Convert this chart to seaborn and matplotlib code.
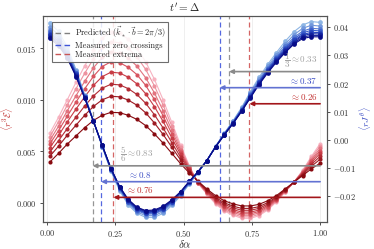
import matplotlib

matplotlib.use("Agg")
import matplotlib.pyplot as plt
import pandas as pd
import seaborn as sns
from matplotlib.lines import Line2D

sns.set_theme(style="ticks")
# Computer-Modern look, set after set_theme
plt.rcParams["font.family"] = ["serif"]
plt.rcParams["font.serif"] = ["cmr10", "DejaVu Serif"]
plt.rcParams["mathtext.fontset"] = "cm"
plt.rcParams["axes.formatter.use_mathtext"] = True

# --- data -----------------------------------------------------------------
x_vals = [0.010, 0.042, 0.074, 0.106, 0.138, 0.170, 0.202, 0.234, 0.266, 0.297,
          0.329, 0.361, 0.393, 0.425, 0.457, 0.489, 0.521, 0.553, 0.585, 0.617,
          0.649, 0.681, 0.713, 0.745, 0.776, 0.808, 0.840, 0.872, 0.904, 0.936,
          0.968, 1.000]

# <r^3 E>, darkest (smallest swing) first
red_0 = [0.00395, 0.00480, 0.00570, 0.00650, 0.00730, 0.00800, 0.00850, 0.00878, 0.00875, 0.00850,
         0.00810, 0.00750, 0.00670, 0.00580, 0.00480, 0.00380, 0.00290, 0.00210, 0.00135, 0.00070,
         0.00020, -0.00010, -0.00030, -0.00030, -0.00015, 0.00020, 0.00070, 0.00135, 0.00200, 0.00265,
         0.00330, 0.00385]
red_1 = [0.00451, 0.00550, 0.00656, 0.00754, 0.00850, 0.00936, 0.01000, 0.01034, 0.01029, 0.00998,
         0.00948, 0.00874, 0.00776, 0.00664, 0.00540, 0.00416, 0.00304, 0.00206, 0.00125, 0.00054,
         0.00000, -0.00032, -0.00054, -0.00054, -0.00037, 0.00002, 0.00058, 0.00129, 0.00200, 0.00275,
         0.00354, 0.00423]
red_2 = [0.00493, 0.00603, 0.00721, 0.00832, 0.00940, 0.01038, 0.01113, 0.01151, 0.01145, 0.01109,
         0.01052, 0.00967, 0.00856, 0.00727, 0.00585, 0.00443, 0.00315, 0.00203, 0.00118, 0.00042,
         -0.00015, -0.00049, -0.00072, -0.00072, -0.00054, -0.00012, 0.00049, 0.00125, 0.00200, 0.00283,
         0.00372, 0.00452]
red_3 = [0.00535, 0.00655, 0.00785, 0.00910, 0.01030, 0.01140, 0.01225, 0.01268, 0.01260, 0.01220,
         0.01155, 0.01060, 0.00935, 0.00790, 0.00630, 0.00470, 0.00325, 0.00200, 0.00110, 0.00030,
         -0.00030, -0.00065, -0.00090, -0.00090, -0.00070, -0.00025, 0.00040, 0.00120, 0.00200, 0.00290,
         0.00390, 0.00480]
red_4 = [0.00571, 0.00701, 0.00841, 0.00978, 0.01108, 0.01228, 0.01323, 0.01369, 0.01360, 0.01316,
         0.01245, 0.01141, 0.01004, 0.00845, 0.00669, 0.00493, 0.00334, 0.00197, 0.00104, 0.00020,
         -0.00043, -0.00079, -0.00106, -0.00106, -0.00084, -0.00037, 0.00032, 0.00116, 0.00200, 0.00297,
         0.00406, 0.00505]
red_5 = [0.00605, 0.00743, 0.00893, 0.01040, 0.01180, 0.01310, 0.01413, 0.01463, 0.01453, 0.01405,
         0.01328, 0.01215, 0.01068, 0.00895, 0.00705, 0.00515, 0.00343, 0.00195, 0.00098, 0.00010,
         -0.00055, -0.00093, -0.00120, -0.00120, -0.00098, -0.00048, 0.00025, 0.00113, 0.00200, 0.00303,
         0.00420, 0.00528]
red_6 = [0.00641, 0.00788, 0.00948, 0.01108, 0.01258, 0.01398, 0.01510, 0.01564, 0.01553, 0.01501,
         0.01417, 0.01296, 0.01136, 0.00950, 0.00744, 0.00538, 0.00352, 0.00192, 0.00091, 0.00000,
         -0.00068, -0.00107, -0.00136, -0.00136, -0.00112, -0.00059, 0.00017, 0.00109, 0.00200, 0.00309,
         0.00436, 0.00552]
red_7 = [0.00675, 0.00830, 0.01000, 0.01170, 0.01330, 0.01480, 0.01600, 0.01658, 0.01645, 0.01590,
         0.01500, 0.01370, 0.01200, 0.01000, 0.00780, 0.00560, 0.00360, 0.00190, 0.00085, -0.00010,
         -0.00080, -0.00120, -0.00150, -0.00150, -0.00125, -0.00070, 0.00010, 0.00105, 0.00200, 0.00315,
         0.00450, 0.00575]

# <r J^theta>, darkest first
blue_0 = [0.0360, 0.0335, 0.0290, 0.0225, 0.0148, 0.0066, -0.0018, -0.0100, -0.0165, -0.0210,
          -0.0238, -0.0250, -0.0248, -0.0235, -0.0212, -0.0183, -0.0146, -0.0112, -0.0073, -0.0025,
          0.0018, 0.0058, 0.0102, 0.0150, 0.0196, 0.0238, 0.0276, 0.0310, 0.0340, 0.0360,
          0.0366, 0.0366]
blue_1 = [0.0366, 0.0340, 0.0294, 0.0228, 0.0149, 0.0066, -0.0019, -0.0101, -0.0167, -0.0212,
          -0.0240, -0.0252, -0.0251, -0.0238, -0.0214, -0.0185, -0.0147, -0.0112, -0.0073, -0.0025,
          0.0019, 0.0059, 0.0103, 0.0152, 0.0199, 0.0241, 0.0279, 0.0314, 0.0344, 0.0365,
          0.0371, 0.0371]
blue_2 = [0.0371, 0.0345, 0.0298, 0.0230, 0.0150, 0.0066, -0.0019, -0.0102, -0.0168, -0.0214,
          -0.0242, -0.0255, -0.0253, -0.0240, -0.0216, -0.0186, -0.0148, -0.0113, -0.0073, -0.0024,
          0.0019, 0.0060, 0.0105, 0.0154, 0.0201, 0.0244, 0.0283, 0.0318, 0.0349, 0.0370,
          0.0377, 0.0376]
blue_3 = [0.0377, 0.0350, 0.0302, 0.0233, 0.0152, 0.0067, -0.0020, -0.0103, -0.0170, -0.0216,
          -0.0245, -0.0257, -0.0256, -0.0243, -0.0218, -0.0188, -0.0149, -0.0113, -0.0073, -0.0024,
          0.0020, 0.0061, 0.0106, 0.0157, 0.0204, 0.0247, 0.0286, 0.0322, 0.0353, 0.0374,
          0.0382, 0.0381]
blue_4 = [0.0383, 0.0356, 0.0307, 0.0236, 0.0153, 0.0067, -0.0021, -0.0104, -0.0171, -0.0218,
          -0.0247, -0.0260, -0.0259, -0.0246, -0.0220, -0.0189, -0.0150, -0.0114, -0.0073, -0.0024,
          0.0021, 0.0062, 0.0108, 0.0159, 0.0207, 0.0251, 0.0290, 0.0327, 0.0358, 0.0380,
          0.0389, 0.0387]
blue_5 = [0.0390, 0.0363, 0.0312, 0.0239, 0.0155, 0.0067, -0.0021, -0.0106, -0.0173, -0.0221,
          -0.0250, -0.0263, -0.0262, -0.0249, -0.0223, -0.0191, -0.0152, -0.0114, -0.0073, -0.0023,
          0.0021, 0.0064, 0.0110, 0.0162, 0.0210, 0.0255, 0.0295, 0.0332, 0.0364, 0.0386,
          0.0396, 0.0394]
blue_6 = [0.0401, 0.0373, 0.0320, 0.0244, 0.0157, 0.0068, -0.0023, -0.0108, -0.0176, -0.0225,
          -0.0255, -0.0268, -0.0268, -0.0254, -0.0227, -0.0194, -0.0154, -0.0115, -0.0073, -0.0023,
          0.0023, 0.0066, 0.0113, 0.0167, 0.0216, 0.0261, 0.0302, 0.0340, 0.0373, 0.0396,
          0.0407, 0.0404]
blue_7 = [0.0415, 0.0385, 0.0330, 0.0250, 0.0160, 0.0068, -0.0024, -0.0110, -0.0180, -0.0230,
          -0.0260, -0.0274, -0.0274, -0.0260, -0.0232, -0.0198, -0.0156, -0.0116, -0.0073, -0.0022,
          0.0024, 0.0068, 0.0116, 0.0172, 0.0222, 0.0268, 0.0310, 0.0350, 0.0384, 0.0408,
          0.0420, 0.0417]

red_curves = [red_0, red_1, red_2, red_3, red_4, red_5, red_6, red_7]
blue_curves = [blue_0, blue_1, blue_2, blue_3, blue_4, blue_5, blue_6, blue_7]

# vertical markers (predicted / measured)
pred_x = [1 / 6, 2 / 3]
zero_x = [0.198, 0.632]
ext_x = [0.243, 0.741]

# arrows: (target x, height in axes fraction, label, colour key, side)
arrow_specs = [
    (2 / 3, 0.730, r"$\dfrac{1}{3}\approx 0.33$", "gray", "right"),
    (0.632, 0.652, r"$\approx 0.37$", "blue", "right"),
    (0.741, 0.574, r"$\approx 0.26$", "red", "right"),
    (1 / 6, 0.273, r"$\dfrac{5}{6}\approx 0.83$", "gray", "left"),
    (0.198, 0.196, r"$\approx 0.8$", "blue", "left"),
    (0.243, 0.120, r"$\approx 0.76$", "red", "left"),
]
label_x = {"gray": 0.268, "blue": 0.298, "red": 0.29}
arrow_col = {"gray": "#8a8a8a", "blue": "#6272d2", "red": "#a3161a"}
text_col = {"gray": "#a2a2a2", "blue": "#3a4cc4", "red": "#c23232"}


def long_df(curves, prefix):
    rows = []
    # light curves first so the dark ones end up on top
    for i in reversed(range(len(curves))):
        for x, v in zip(x_vals, curves[i]):
            rows.append({"x": x, "v": v, "curve": f"{prefix}{i}"})
    return pd.DataFrame(rows)


df_red = long_df(red_curves, "r")
df_blue = long_df(blue_curves, "b")
red_pal = sns.blend_palette(["#f7b2c0", "#d2444f", "#880a10"], 8)
blue_pal = sns.blend_palette(["#8db5e4", "#2a4cc6", "#080c88"], 8)

fig, ax = plt.subplots(figsize=(3.74, 2.49), dpi=100)
fig.subplots_adjust(left=0.115, right=0.874, bottom=0.108, top=0.936)
ax2 = ax.twinx()

ax.grid(axis="x", color="#ececec", lw=0.6)
ax.set_axisbelow(True)

for xv in pred_x:
    ax.axvline(xv, color="#959595", lw=0.9, ls=(0, (4, 2.5)), zorder=1.5)
for xv in zero_x:
    ax.axvline(xv, color="#5568e0", lw=0.9, ls=(0, (4, 2.5)), zorder=1.5)
for xv in ext_x:
    ax.axvline(xv, color="#d46464", lw=0.9, ls=(0, (4, 2.5)), zorder=1.5)

sns.lineplot(data=df_red, x="x", y="v", hue="curve", palette=red_pal,
             estimator=None, marker="o", markersize=3, markeredgewidth=0,
             linewidth=0.8, legend=False, ax=ax)
sns.lineplot(data=df_blue, x="x", y="v", hue="curve", palette=blue_pal,
             estimator=None, marker="o", markersize=3.4, markeredgewidth=0,
             linewidth=0.8, legend=False, ax=ax2)

# arrows pointing from the right end to the vertical markers
for xt, yf, txt, key, side in arrow_specs:
    ax2.annotate("", xy=(xt, yf), xytext=(1.0, yf),
                 xycoords=("data", "axes fraction"),
                 textcoords=("data", "axes fraction"),
                 arrowprops=dict(arrowstyle="-|>", color=arrow_col[key], lw=1.2,
                                 mutation_scale=6, shrinkA=0, shrinkB=0))
    if side == "right":
        ax2.text(0.99, yf + 0.01, txt, color=text_col[key], fontsize=6.5,
                 ha="right", va="bottom", transform=ax2.get_xaxis_transform())
    else:
        ax2.text(label_x[key], yf + 0.01, txt, color=text_col[key], fontsize=6.5,
                 ha="left", va="bottom", transform=ax2.get_xaxis_transform())

ax.set_xlim(-0.0148, 1.0248)
ax.set_ylim(-0.00187, 0.01814)
ax2.set_ylim(-0.0291, 0.044)
ax.set_xticks([0.0, 0.25, 0.5, 0.75, 1.0])
ax.set_yticks([0.0, 0.005, 0.010, 0.015])
ax2.set_yticks([-0.02, -0.01, 0.0, 0.01, 0.02, 0.03, 0.04])

for a in (ax, ax2):
    a.tick_params(labelsize=6, length=2.5, width=0.6, pad=2, colors="#333333")
    for sp in a.spines.values():
        sp.set_color("#555555")
        sp.set_linewidth(0.8)

ax.set_xlabel(r"$\delta\alpha$", fontsize=8, labelpad=-1)
ax.set_ylabel(r"$\langle r^3\mathcal{E}\rangle$", fontsize=7, color="#c23232", labelpad=1)
ax2.set_ylabel(r"$\langle rJ^{\theta}\rangle$", fontsize=7, color="#3a4cc4", labelpad=1)
ax.set_title(r"$t' = \Delta$", fontsize=8, pad=2)

handles = [
    Line2D([], [], color="#808080", lw=1.0, ls=(0, (4, 2.5))),
    Line2D([], [], color="#3f55d8", lw=1.0, ls=(0, (4, 2.5))),
    Line2D([], [], color="#c85555", lw=1.0, ls=(0, (4, 2.5))),
]
labels = [r"Predicted ($\vec{k}_* \cdot \vec{b} = 2\pi/3$)",
          "Measured zero crossings", "Measured extrema"]
leg = ax2.legend(handles, labels, loc="upper left", bbox_to_anchor=(0.032, 0.972),
                 fontsize=6, frameon=True, fancybox=False, framealpha=0.85,
                 edgecolor="#555555", borderpad=0.3, labelspacing=0.15,
                 handlelength=2.0, handletextpad=0.4, borderaxespad=0)
leg.get_frame().set_linewidth(0.8)

fig.savefig("out.png", dpi=100)
plt.close(fig)
